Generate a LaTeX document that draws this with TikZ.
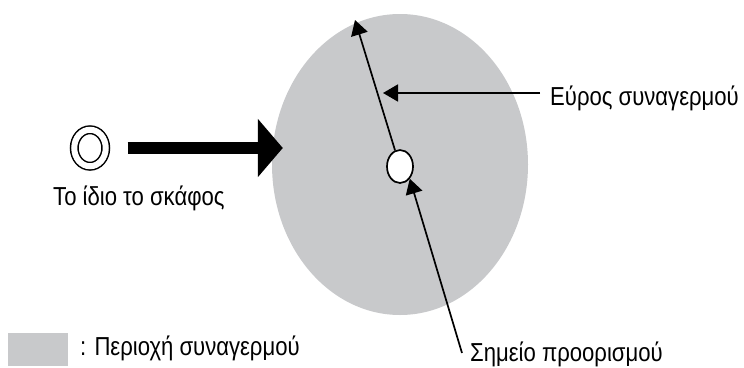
\documentclass[tikz,border=0pt]{standalone}
\usepackage{fontspec}
\setmainfont{Liberation Sans}[FakeStretch=0.85]
\usetikzlibrary{arrows.meta,positioning,shapes.geometric}
\definecolor{zonegray}{RGB}{200,201,203}
\begin{document}
\begin{tikzpicture}[x=1pt,y=-1pt,
  txt/.style={font=\fontsize{26}{30}\selectfont, inner sep=0pt, anchor=base west},
  pointer/.style={line width=1.7pt, -{Triangle[length=15pt,width=17pt]}}]
\useasboundingbox (0,0) rectangle (744,367);
% alarm zone and destination
\node[ellipse, fill=zonegray, minimum width=256pt, minimum height=301pt, inner sep=0pt] (zone) at (400,164.5) {};
\node[ellipse, draw, line width=1.7pt, fill=white, minimum width=26pt, minimum height=33pt, inner sep=0pt] (dest) at (400,166.5) {};
% own ship
\node[ellipse, draw, line width=1.5pt, double, double distance=6pt, minimum width=31.5pt, minimum height=36.5pt, inner sep=0pt] (ship) at (90,148) {};
\node[txt] (shiplabel) at (53,205) {Το ίδιο το σκάφος};
\draw[line width=12pt, -{Triangle[length=25pt,width=57pt]}] ([xshift=21pt]ship.east) -- ([xshift=11pt]ship.east -| zone.west);
% alarm range
\coordinate (rangetip) at (355,20);
\draw[pointer] (dest) -- (rangetip);
\coordinate (rangemark) at (383,93);
\node[txt] (rangelabel) at (550,105) {Εύρος συναγερμού};
\draw[pointer] ([xshift=-10pt,yshift=12pt]rangelabel.base west) -- (rangemark);
% destination label
\node[txt] (destlabel) at (470,361) {Σημείο προορισμού};
\draw[pointer] ([xshift=-8pt,yshift=8pt]destlabel.base west) -- (dest.south east);
% legend
\node[fill=zonegray, minimum width=60pt, minimum height=33pt, inner sep=0pt] (key) at (38,349.5) {};
\node[txt] (keylabel) at (80,355) {: Περιοχή συναγερμού};
\end{tikzpicture}
\end{document}
